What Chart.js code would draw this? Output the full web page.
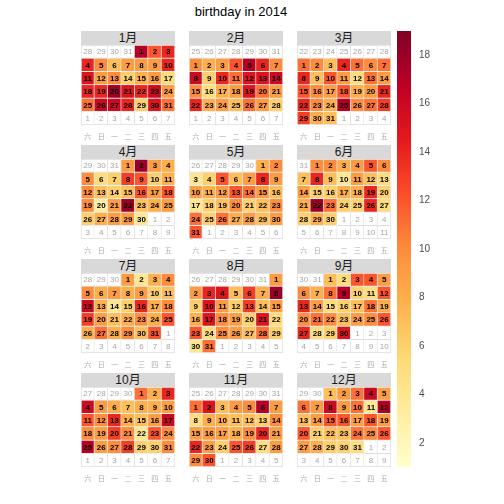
<!DOCTYPE html>
<html><head><meta charset="utf-8">
<script src="https://cdn.jsdelivr.net/npm/chart.js@4.4.1/dist/chart.umd.min.js"></script>
<style>
html,body{margin:0;padding:0;background:#fff;width:504px;height:504px;overflow:hidden;font-family:"Liberation Sans",Arial,sans-serif;}
#title{position:absolute;left:0;width:482px;top:4px;text-align:center;font-size:13px;line-height:15px;color:#000;}
.strip{position:absolute;width:94px;height:14px;background:#d9d9d9;color:#1a1a1a;font-size:12px;line-height:14px;text-align:center;font-family:"Liberation Sans","Noto Sans CJK SC",sans-serif;}
canvas{position:absolute;}
</style></head><body>
<div id="title">birthday in 2014</div>
<script>
// ---------- data ----------
const year = 2014;
const monthLabels = ['1月','2月','3月','4月','5月','6月','7月','8月','9月','10月','11月','12月'];
const weekdayLabels = ['六','日','一','二','三','四','五'];
const m01 = [17,12,14,14,10,7,9,9,9,14,15,9,10,6,8,9,5,14,14,18,15,14,16,9,11,16,16,14,6,15,11];
const m02 = [10,8,9,12,17,14,10,16,6,14,11,15,15,16,10,5,8,9,15,11,9,14,8,9,7,11,9,6];
const m03 = [11,10,7,14,11,10,11,14,7,12,9,5,11,9,12,10,9,12,8,9,14,14,10,8,17,10,11,13,13,8,7];
const m04 = [9,18,9,8,10,5,6,13,12,6,8,10,7,6,7,12,9,12,10,3,9,18,7,8,9,6,8,9,9,4];
const m05 = [8,10,4,6,12,7,9,14,9,9,8,9,12,11,9,7,4,6,7,10,6,7,10,11,6,11,8,9,7,9,12];
const m06 = [10,10,8,9,12,10,7,14,7,4,9,7,5,9,6,6,8,8,14,6,8,18,11,6,6,14,5,6,8,6];
const m07 = [9,4,8,10,10,8,9,8,9,6,7,16,8,4,6,14,8,10,13,9,7,8,10,8,12,8,11,8,10,7,12];
const m08 = [9,9,14,15,7,13,8,18,6,15,9,6,13,7,9,8,15,10,9,6,15,5,12,5,10,9,7,11,6,4,11];
const m09 = [7,5,12,12,9,10,8,11,17,6,5,12,14,9,5,6,7,11,8,10,11,10,7,9,10,12,14,5,6,15];
const m10 = [11,8,14,16,9,8,7,8,8,9,12,10,14,8,7,9,16,10,9,13,10,4,12,10,17,9,10,13,6,6,10];
const m11 = [11,15,7,9,10,17,9,5,8,8,7,7,6,10,9,9,9,8,10,14,9,14,9,6,12,13,5,9,10,12];
const m12 = [7,9,11,16,9,11,9,16,9,11,4,17,7,9,12,12,9,12,9,12,6,7,7,11,10,12,9,8,6,6,5];
const monthValues = [m01,m02,m03,m04,m05,m06,m07,m08,m09,m10,m11,m12];
const colorbarTicks = [2,4,6,8,10,12,14,16,18];
const valueRange = [1,19];
const palette = ['#ffffcc','#ffeda0','#fed976','#feb24c','#fd8d3c','#fc4e2a','#e31a1c','#bd0026','#800026'];

// ---------- helpers ----------
function hex2rgb(h){return [parseInt(h.slice(1,3),16),parseInt(h.slice(3,5),16),parseInt(h.slice(5,7),16)];}
const palRGB = palette.map(hex2rgb);
function colorFor(v){
  let t = (v - valueRange[0])/(valueRange[1]-valueRange[0]);
  t = Math.max(0, Math.min(1, t));
  const p = t*(palRGB.length-1);
  const i = Math.min(Math.floor(p), palRGB.length-2);
  const f = p - i;
  const a = palRGB[i], b = palRGB[i+1];
  const c = a.map((x,k)=>Math.round(x+(b[k]-x)*f));
  return 'rgb('+c.join(',')+')';
}

const panelLeft = [81, 189, 297];
const gridTop = [45, 159, 273, 387];
const panelW = 94, gridH = 80, axisH = 16;

const dayLabelPlugin = {
  id: 'dayLabels',
  afterDatasetsDraw(chart){
    const ctx = chart.ctx;
    ctx.save();
    ctx.textAlign = 'center';
    ctx.textBaseline = 'middle';
    chart.data.datasets.forEach((ds, r) => {
      const meta = chart.getDatasetMeta(r);
      meta.data.forEach((el, c) => {
        const inM = ds.inMonth[c];
        ctx.font = inM ? 'bold 8px "Liberation Sans", Arial, sans-serif' : '8px "Liberation Sans", Arial, sans-serif';
        ctx.fillStyle = inM ? '#000000' : '#a6a6a6';
        ctx.fillText(String(ds.days[c]), el.x, (el.y + el.base)/2 + 0.5);
      });
    });
    ctx.restore();
  }
};

monthValues.forEach((vals, mi) => {
  const col = mi % 3, row = Math.floor(mi / 3);
  const left = panelLeft[col], top = gridTop[row];

  const strip = document.createElement('div');
  strip.className = 'strip';
  strip.style.left = left + 'px';
  strip.style.top = (top - 14) + 'px';
  strip.textContent = monthLabels[mi];
  document.body.appendChild(strip);

  const cv = document.createElement('canvas');
  cv.width = panelW; cv.height = gridH + axisH;
  cv.style.left = left + 'px'; cv.style.top = top + 'px';
  cv.style.width = panelW + 'px'; cv.style.height = (gridH + axisH) + 'px';
  document.body.appendChild(cv);

  const first = new Date(year, mi, 1);
  const offset = first.getDay() + 1;
  const datasets = [];
  for (let r = 0; r < 6; r++) {
    const data = [], bg = [], bc = [], bw = [], days = [], inMonth = [];
    for (let c = 0; c < 7; c++) {
      const d = new Date(year, mi, 1 - offset + r*7 + c);
      const inM = d.getMonth() === mi;
      data.push([r, r+1]);
      days.push(d.getDate());
      inMonth.push(inM);
      bg.push(inM ? colorFor(vals[d.getDate()-1]) : '#ffffff');
      bc.push(inM ? '#eeeeee' : '#dddddd');
      bw.push({left: c===0?1:0, top: r===0?1:0, right:1, bottom:1});
    }
    datasets.push({data, backgroundColor: bg, borderColor: bc, borderWidth: bw, days, inMonth,
      borderSkipped: false, grouped: false, barPercentage: 1, categoryPercentage: 1});
  }

  new Chart(cv, {
    type: 'bar',
    data: {labels: weekdayLabels, datasets},
    options: {
      responsive: false, animation: false, events: [],
      layout: {padding: 0},
      plugins: {legend: {display: false}, tooltip: {enabled: false}, title: {display: false}},
      scales: {
        x: {type: 'category', offset: true,
            grid: {display: false, drawTicks: false}, border: {display: false},
            ticks: {font: {size: 7, family: '"Noto Sans CJK SC", sans-serif'}, color: '#ababab', padding: 7, maxRotation: 0, autoSkip: false},
            afterFit(s){ s.height = axisH; s.paddingLeft = 0; s.paddingRight = 0; }},
        y: {type: 'linear', min: 0, max: 6, reverse: true, display: false}
      }
    },
    plugins: [dayLabelPlugin]
  });
});

// ---------- colour bar ----------
const cb = document.createElement('canvas');
const cbTop = 31, cbH = 436, cbBarW = 14, cbAxisW = 28;
cb.width = cbBarW + cbAxisW; cb.height = cbH;
cb.style.left = '397px'; cb.style.top = cbTop + 'px';
cb.style.width = (cbBarW + cbAxisW) + 'px'; cb.style.height = cbH + 'px';
document.body.appendChild(cb);

new Chart(cb, {
  type: 'bar',
  data: {labels: [''], datasets: [{
    data: [valueRange],
    borderWidth: 0, barPercentage: 1, categoryPercentage: 1, borderSkipped: false,
    backgroundColor: (c) => {
      const ch = c.chart;
      if (!ch.chartArea) return palette[4];
      const ys = ch.scales.y;
      const g = ch.ctx.createLinearGradient(0, ys.getPixelForValue(valueRange[0]), 0, ys.getPixelForValue(valueRange[1]));
      palette.forEach((p, i) => g.addColorStop(i/(palette.length-1), p));
      return g;
    }
  }]},
  options: {
    responsive: false, animation: false, events: [],
    layout: {padding: 0},
    plugins: {legend: {display: false}, tooltip: {enabled: false}},
    scales: {
      x: {type: 'category', offset: true, display: false},
      y: {type: 'linear', position: 'right', min: valueRange[0], max: valueRange[1],
          grid: {display: false, drawTicks: false}, border: {display: false},
          ticks: {font: {size: 10, family: '"Liberation Sans", Arial, sans-serif'}, color: '#4d4d4d', padding: 8},
          afterBuildTicks(s){ s.ticks = colorbarTicks.map(v => ({value: v})); },
          afterFit(s){ s.width = cbAxisW; s.paddingTop = 0; s.paddingBottom = 0; }}
    }
  }
});
</script>
</body></html>
